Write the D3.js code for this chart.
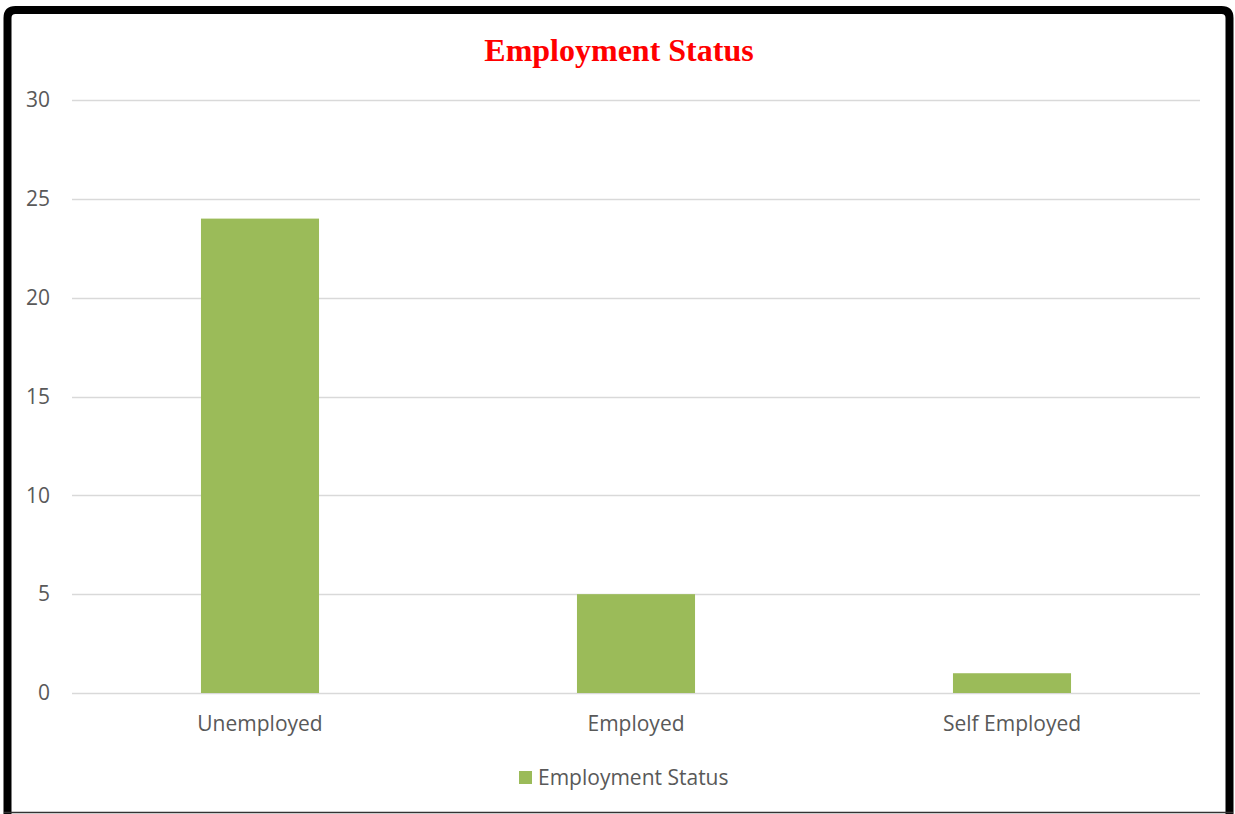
<!DOCTYPE html>
<html>
<head>
<meta charset="utf-8">
<script src="https://cdn.jsdelivr.net/npm/d3@7"></script>
<style>
  html, body { margin: 0; padding: 0; background: #ffffff; }
  svg { display: block; }
</style>
</head>
<body>
<script>
// Chart data
const categories = ["Unemployed", "Employed", "Self Employed"];
const counts = [24, 5, 1];
const yTicks = [0, 5, 10, 15, 20, 25, 30];
const chartTitle = "Employment Status";
const seriesName = "Employment Status";

const W = 1235, H = 814;
const svg = d3.select("body").append("svg").attr("width", W).attr("height", H);

// Frame: thick black border, open at the bottom edge
svg.append("path")
  .attr("d", "M7.5,814 L7.5,18 Q7.5,10 15.5,10 L1221.5,10 Q1229.5,10 1229.5,18 L1229.5,814")
  .attr("fill", "none").attr("stroke", "#000").attr("stroke-width", 8);
svg.append("line").attr("x1", 4).attr("x2", 1233).attr("y1", 812.5).attr("y2", 812.5)
  .attr("stroke", "#333").attr("stroke-width", 1.5);

const x = d3.scaleBand().domain(categories).range([72, 1200])
  .paddingInner(0.686).paddingOuter(0.343);
const y = d3.scaleLinear().domain([0, 30]).range([693, 100]);

const labelFont = "'Open Sans', sans-serif";
const labelColor = "#595959";

// Gridlines
svg.append("g").selectAll("line").data(yTicks).join("line")
  .attr("x1", 72).attr("x2", 1200)
  .attr("y1", d => Math.round(y(d)) + 0.5).attr("y2", d => Math.round(y(d)) + 0.5)
  .attr("stroke", "#d9d9d9").attr("stroke-width", 1.5);

// Y axis labels
const yAxis = svg.append("g").attr("transform", "translate(50,0)")
  .call(d3.axisLeft(y).tickValues(yTicks).tickSize(0).tickPadding(0));
yAxis.select(".domain").remove();
yAxis.selectAll("text").attr("font-family", labelFont)
  .attr("font-size", 21).attr("fill", labelColor);

// Bars
svg.append("g").selectAll("rect").data(counts).join("rect")
  .attr("x", (d, i) => x(categories[i]))
  .attr("width", x.bandwidth())
  .attr("y", d => y(d))
  .attr("height", d => y(0) - y(d))
  .attr("fill", "#9bbb59");

// X axis labels
const xAxis = svg.append("g").attr("transform", "translate(0,693)")
  .call(d3.axisBottom(x).tickSize(0).tickPadding(23));
xAxis.select(".domain").remove();
xAxis.selectAll("text").attr("font-family", labelFont)
  .attr("font-size", 21).attr("fill", labelColor);

// Title
svg.append("text").attr("x", 619).attr("y", 61).attr("text-anchor", "middle")
  .attr("font-family", "'Liberation Serif', 'Times New Roman', serif")
  .attr("font-weight", "bold").attr("font-size", 32).attr("fill", "#ff0000")
  .text(chartTitle);

// Legend
const legend = svg.append("g");
legend.append("rect").attr("x", 519).attr("y", 771).attr("width", 13).attr("height", 13)
  .attr("fill", "#9bbb59");
legend.append("text").attr("x", 538).attr("y", 785)
  .attr("font-family", labelFont).attr("font-size", 21).attr("fill", labelColor)
  .text(seriesName);
</script>
</body>
</html>
